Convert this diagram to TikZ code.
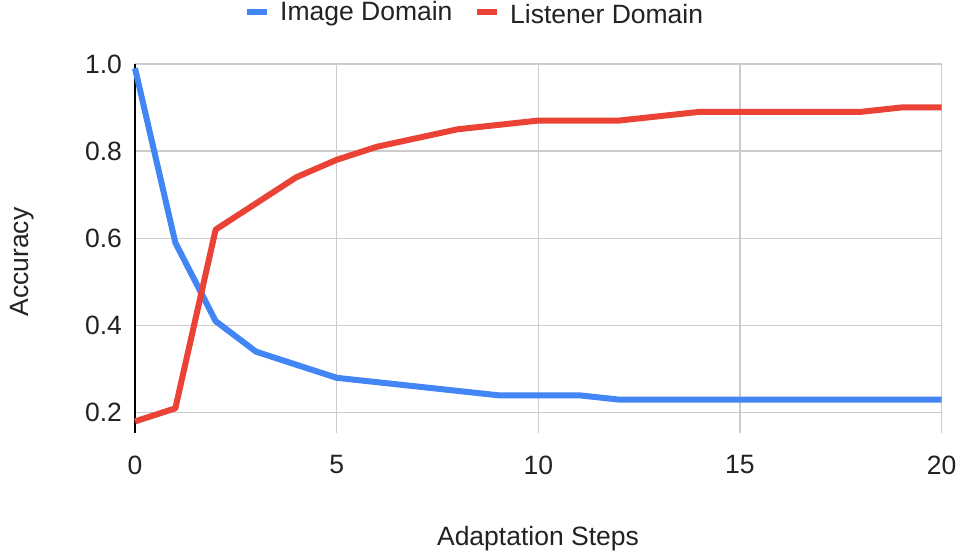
\documentclass[tikz,border=0pt]{standalone}
\usepackage{fontspec}
\setmainfont{Liberation Sans}
\definecolor{seriesblue}{HTML}{4285F4}
\definecolor{seriesred}{HTML}{EA4335}
\definecolor{gridgray}{HTML}{CCCCCC}
\definecolor{labeltext}{HTML}{222222}
\begin{document}
\begin{tikzpicture}[x=1pt,y=1pt,
  lbl/.style={font=\fontsize{26.5}{31}\selectfont, text=labeltext, inner sep=0pt},
  gridline/.style={gridgray, line width=1.3pt},
  series/.style={line width=6pt, line join=round},
]
\useasboundingbox (0,0) rectangle (962,556);
\fill[white] (0,0) rectangle (962,556);

\begin{scope}[shift={(135,56.1)}, x=40.33pt, y=436pt]
  % grid
  \foreach \v in {0.2,0.4,0.6,0.8,1.0}
    \draw[gridline] (0,\v) -- (20,\v);
  \foreach \s in {5,10,15,20}
    \draw[gridline] (\s,0.153) -- (\s,1.0);
  % vertical axis
  \draw[black, line width=1.6pt] (0,0.153) -- (0,1.0);
  % series
  \draw[series, seriesblue] (0,0.99) -- (1,0.59) -- (2,0.41) -- (3,0.34) -- (4,0.31)
    -- (5,0.28) -- (6,0.27) -- (7,0.26) -- (8,0.25) -- (9,0.24) -- (10,0.24)
    -- (11,0.24) -- (12,0.23) -- (13,0.23) -- (14,0.23) -- (15,0.23) -- (16,0.23)
    -- (17,0.23) -- (18,0.23) -- (19,0.23) -- (20,0.23);
  \draw[series, seriesred] (0,0.18) -- (1,0.21) -- (2,0.62) -- (3,0.68) -- (4,0.74)
    -- (5,0.78) -- (6,0.81) -- (7,0.83) -- (8,0.85) -- (9,0.86) -- (10,0.87)
    -- (11,0.87) -- (12,0.87) -- (13,0.88) -- (14,0.89) -- (15,0.89) -- (16,0.89)
    -- (17,0.89) -- (18,0.89) -- (19,0.90) -- (20,0.90);
  % tick labels
  \foreach \v/\t in {0.2/0.2,0.4/0.4,0.6/0.6,0.8/0.8,1.0/1.0}
    \node[lbl, anchor=east] (yt\t) at (-0.32,\v) {\t};
  \foreach \s in {0,5,10,15,20}
    \node[lbl] (xt\s) at (\s,0.08) {\s};
\end{scope}

% axis titles
\node[lbl, rotate=90] (ytitle) at (22,294) {Accuracy};
\node[lbl] (xtitle) at (538,17) {Adaptation Steps};

% legend
\draw[seriesblue, line width=5.5pt] (247,544) -- (267,544);
\node[lbl, anchor=west] (legA) at (280,542) {Image Domain};
\draw[seriesred, line width=5.5pt] (477,544) -- (497,544);
\node[lbl, anchor=west] (legB) at (510,542) {Listener Domain};
\end{tikzpicture}
\end{document}
